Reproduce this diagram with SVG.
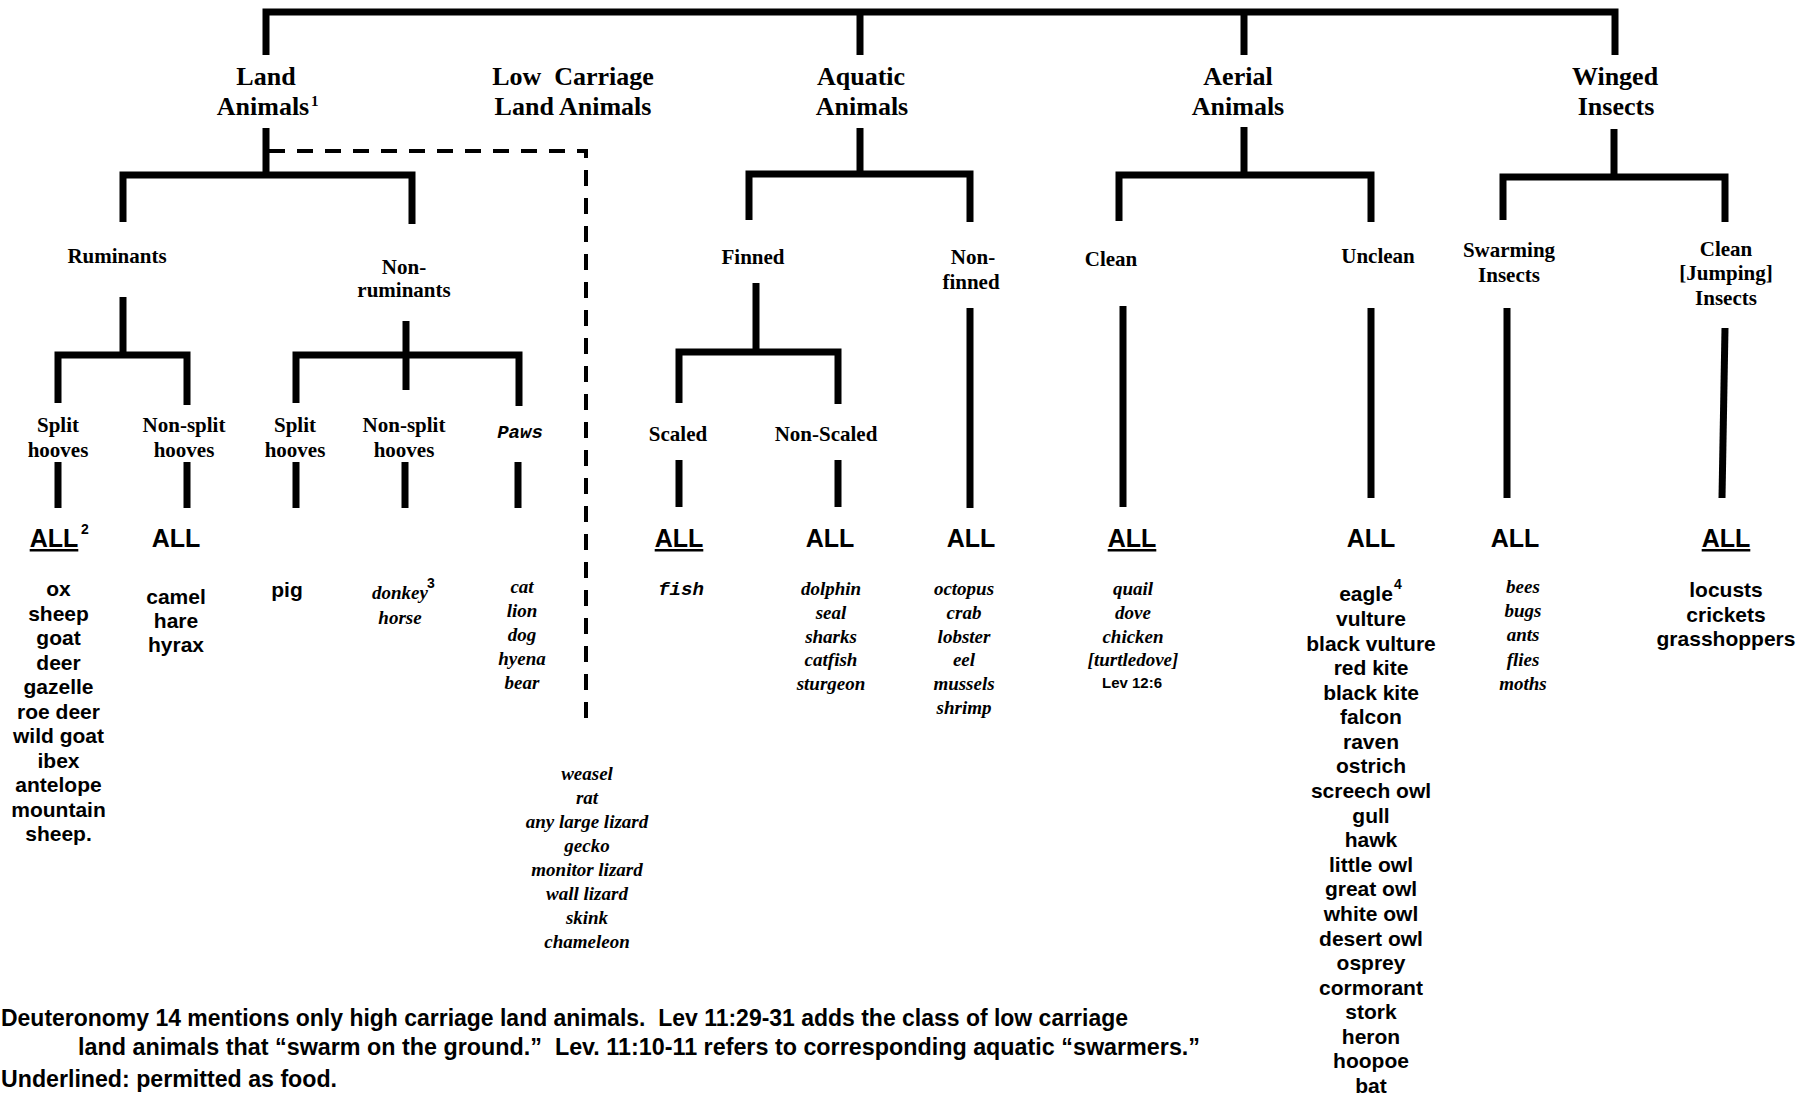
<svg xmlns="http://www.w3.org/2000/svg" width="1815" height="1097" viewBox="0 0 1815 1097">
<style>
.h{font-family:"Liberation Serif","Times New Roman",serif;font-weight:bold;font-size:26px;text-anchor:middle;fill:#000}
.s{font-family:"Liberation Serif","Times New Roman",serif;font-weight:bold;font-size:21px;text-anchor:middle;fill:#000}
.all{font-family:"Liberation Sans",Arial,sans-serif;font-weight:bold;font-size:25px;text-anchor:middle;fill:#000}
.u{text-decoration:underline}
.li{font-family:"Liberation Sans",Arial,sans-serif;font-weight:bold;font-size:21px;text-anchor:middle;fill:#000}
.sc{font-family:"Liberation Serif","Times New Roman",serif;font-style:italic;font-weight:bold;font-size:19px;text-anchor:middle;fill:#000}
.mono{font-family:"Liberation Mono","Courier New",monospace;font-style:italic;font-weight:bold;font-size:19px;text-anchor:middle;fill:#000}
.sup{font-family:"Liberation Sans",Arial,sans-serif;font-weight:bold;font-size:14px;fill:#000}
.supr{font-family:"Liberation Serif","Times New Roman",serif;font-weight:bold;font-size:15px;fill:#000}
.small{font-family:"Liberation Sans",Arial,sans-serif;font-weight:bold;font-size:15px;text-anchor:middle;fill:#000}
.note{font-family:"Liberation Sans Narrow","Liberation Sans",Arial,sans-serif;font-weight:bold;font-size:23px;fill:#000}
.ln{fill:none;stroke:#000;stroke-width:7;stroke-linejoin:miter;stroke-linecap:butt}
.dash{fill:none;stroke:#000;stroke-width:4;stroke-dasharray:16 12}
</style>
<rect width="1815" height="1097" fill="#fff"/>
<g id="connectors">
<path class="ln" d="M266,55 V12 H1615 V55"/>
<path class="ln" d="M860,12 V55"/>
<path class="ln" d="M1244,12 V55"/>
<path class="ln" d="M266,128 V175"/>
<path class="ln" d="M123,222 V175 H412 V224"/>
<path class="dash" d="M269,151 H586 V727"/>
<path class="ln" d="M123,297 V355"/>
<path class="ln" d="M58,403 V355 H187 V405"/>
<path class="ln" d="M406,321 V390"/>
<path class="ln" d="M296,403 V355 H519 V406"/>
<path class="ln" d="M58,462 V508 M187,462 V508 M296,462 V508 M405,462 V508 M518,462 V508"/>
<path class="ln" d="M860,128 V174"/>
<path class="ln" d="M749,220 V174 H970 V222"/>
<path class="ln" d="M756,283 V352"/>
<path class="ln" d="M679,403 V352 H838 V404"/>
<path class="ln" d="M679,460 V507 M838,460 V507"/>
<path class="ln" d="M970,308 V508"/>
<path class="ln" d="M1244,127 V175"/>
<path class="ln" d="M1119,221 V175 H1371 V222"/>
<path class="ln" d="M1123,306 V507"/>
<path class="ln" d="M1371,308 V498"/>
<path class="ln" d="M1614,129 V177"/>
<path class="ln" d="M1503,220 V177 H1725 V222"/>
<path class="ln" d="M1507,308 V498"/>
<path class="ln" d="M1725,328 L1722,498"/>
</g>
<g id="land-animals">
<text class="h" x="266" y="85">Land</text>
<text class="h" x="263" y="115">Animals</text>
<text class="supr" x="311" y="106">1</text>
</g>
<g id="low-carriage">
<text class="h" x="573" y="85" xml:space="preserve">Low  Carriage</text>
<text class="h" x="573" y="115">Land Animals</text>
</g>
<g id="aquatic">
<text class="h" x="861" y="85">Aquatic</text>
<text class="h" x="862" y="115">Animals</text>
</g>
<g id="aerial">
<text class="h" x="1238" y="85">Aerial</text>
<text class="h" x="1238" y="115">Animals</text>
</g>
<g id="winged">
<text class="h" x="1615" y="85">Winged</text>
<text class="h" x="1616" y="115">Insects</text>
</g>
<g id="ruminants"><text class="s" x="117" y="263">Ruminants</text></g>
<g id="non-ruminants">
<text class="s" x="404" y="274">Non-</text>
<text class="s" x="404" y="297">ruminants</text>
</g>
<g id="rum-split">
<text class="s" x="58" y="432">Split</text>
<text class="s" x="58" y="457">hooves</text>
</g>
<g id="rum-nonsplit">
<text class="s" x="184" y="432">Non-split</text>
<text class="s" x="184" y="457">hooves</text>
</g>
<g id="nr-split">
<text class="s" x="295" y="432">Split</text>
<text class="s" x="295" y="457">hooves</text>
</g>
<g id="nr-nonsplit">
<text class="s" x="404" y="432">Non-split</text>
<text class="s" x="404" y="457">hooves</text>
</g>
<g id="paws"><text class="mono" x="520" y="438">Paws</text></g>
<g id="finned"><text class="s" x="753" y="264">Finned</text></g>
<g id="non-finned">
<text class="s" x="973" y="264">Non-</text>
<text class="s" x="971" y="289">finned</text>
</g>
<g id="scaled"><text class="s" x="678" y="441">Scaled</text></g>
<g id="non-scaled"><text class="s" x="826" y="441">Non-Scaled</text></g>
<g id="clean-birds"><text class="s" x="1111" y="266">Clean</text></g>
<g id="unclean-birds"><text class="s" x="1378" y="263">Unclean</text></g>
<g id="swarming">
<text class="s" x="1509" y="257">Swarming</text>
<text class="s" x="1509" y="282">Insects</text>
</g>
<g id="jumping">
<text class="s" x="1726" y="256">Clean</text>
<text class="s" x="1726" y="280">[Jumping]</text>
<text class="s" x="1726" y="305">Insects</text>
</g>
<g id="leaf-rum-split">
<text class="all u" x="54" y="547">ALL</text>
<text class="sup" x="81" y="534">2</text>
<text class="li" x="58.5" y="596"><tspan x="58.5">ox</tspan><tspan x="58.5" dy="24.5">sheep</tspan><tspan x="58.5" dy="24.5">goat</tspan><tspan x="58.5" dy="24.5">deer</tspan><tspan x="58.5" dy="24.5">gazelle</tspan><tspan x="58.5" dy="24.5">roe deer</tspan><tspan x="58.5" dy="24.5">wild goat</tspan><tspan x="58.5" dy="24.5">ibex</tspan><tspan x="58.5" dy="24.5">antelope</tspan><tspan x="58.5" dy="24.5">mountain</tspan><tspan x="58.5" dy="24.5">sheep.</tspan></text>
</g>
<g id="leaf-rum-nonsplit">
<text class="all" x="176" y="547">ALL</text>
<text class="li" x="176" y="604"><tspan x="176">camel</tspan><tspan x="176" dy="24">hare</tspan><tspan x="176" dy="24">hyrax</tspan></text>
</g>
<g id="leaf-nr-split"><text class="li" x="287" y="597">pig</text></g>
<g id="leaf-nr-nonsplit">
<text class="sc" x="400" y="599">donkey</text>
<text class="sup" x="427" y="588">3</text>
<text class="sc" x="400" y="624">horse</text>
</g>
<g id="leaf-paws">
<text class="sc" x="522" y="593"><tspan x="522">cat</tspan><tspan x="522" dy="24">lion</tspan><tspan x="522" dy="24">dog</tspan><tspan x="522" dy="24">hyena</tspan><tspan x="522" dy="24">bear</tspan></text>
</g>
<g id="leaf-low-carriage">
<text class="sc" x="587" y="780"><tspan x="587">weasel</tspan><tspan x="587" dy="24">rat</tspan><tspan x="587" dy="24">any large lizard</tspan><tspan x="587" dy="24">gecko</tspan><tspan x="587" dy="24">monitor lizard</tspan><tspan x="587" dy="24">wall lizard</tspan><tspan x="587" dy="24">skink</tspan><tspan x="587" dy="24">chameleon</tspan></text>
</g>
<g id="leaf-scaled">
<text class="all u" x="679" y="547">ALL</text>
<text class="mono" x="681" y="595">fish</text>
</g>
<g id="leaf-non-scaled">
<text class="all" x="830" y="547">ALL</text>
<text class="sc" x="831" y="595"><tspan x="831">dolphin</tspan><tspan x="831" dy="23.8">seal</tspan><tspan x="831" dy="23.8">sharks</tspan><tspan x="831" dy="23.8">catfish</tspan><tspan x="831" dy="23.8">sturgeon</tspan></text>
</g>
<g id="leaf-non-finned">
<text class="all" x="971" y="547">ALL</text>
<text class="sc" x="964" y="595"><tspan x="964">octopus</tspan><tspan x="964" dy="23.8">crab</tspan><tspan x="964" dy="23.8">lobster</tspan><tspan x="964" dy="23.8">eel</tspan><tspan x="964" dy="23.8">mussels</tspan><tspan x="964" dy="23.8">shrimp</tspan></text>
</g>
<g id="leaf-clean-birds">
<text class="all u" x="1132" y="547">ALL</text>
<text class="sc" x="1133" y="595"><tspan x="1133">quail</tspan><tspan x="1133" dy="23.8">dove</tspan><tspan x="1133" dy="23.8">chicken</tspan><tspan x="1133" dy="23.8">[turtledove]</tspan></text>
<text class="small" x="1132" y="688">Lev 12:6</text>
</g>
<g id="leaf-unclean-birds">
<text class="all" x="1371" y="547">ALL</text>
<text class="li" x="1366" y="601">eagle</text>
<text class="sup" x="1394" y="589">4</text>
<text class="li" x="1371" y="626"><tspan x="1371">vulture</tspan><tspan x="1371" dy="24.58">black vulture</tspan><tspan x="1371" dy="24.58">red kite</tspan><tspan x="1371" dy="24.58">black kite</tspan><tspan x="1371" dy="24.58">falcon</tspan><tspan x="1371" dy="24.58">raven</tspan><tspan x="1371" dy="24.58">ostrich</tspan><tspan x="1371" dy="24.58">screech owl</tspan><tspan x="1371" dy="24.58">gull</tspan><tspan x="1371" dy="24.58">hawk</tspan><tspan x="1371" dy="24.58">little owl</tspan><tspan x="1371" dy="24.58">great owl</tspan><tspan x="1371" dy="24.58">white owl</tspan><tspan x="1371" dy="24.58">desert owl</tspan><tspan x="1371" dy="24.58">osprey</tspan><tspan x="1371" dy="24.58">cormorant</tspan><tspan x="1371" dy="24.58">stork</tspan><tspan x="1371" dy="24.58">heron</tspan><tspan x="1371" dy="24.58">hoopoe</tspan><tspan x="1371" dy="24.58">bat</tspan></text>
</g>
<g id="leaf-swarming">
<text class="all" x="1515" y="547">ALL</text>
<text class="sc" x="1523" y="593"><tspan x="1523">bees</tspan><tspan x="1523" dy="24.2">bugs</tspan><tspan x="1523" dy="24.2">ants</tspan><tspan x="1523" dy="24.2">flies</tspan><tspan x="1523" dy="24.2">moths</tspan></text>
</g>
<g id="leaf-jumping">
<text class="all u" x="1726" y="547">ALL</text>
<text class="li" x="1726" y="597"><tspan x="1726">locusts</tspan><tspan x="1726" dy="24.5">crickets</tspan><tspan x="1726" dy="24.5">grasshoppers</tspan></text>
</g>
<g id="notes">
<text class="note" x="1" y="1026" textLength="1127" lengthAdjust="spacingAndGlyphs" xml:space="preserve">Deuteronomy 14 mentions only high carriage land animals.  Lev 11:29-31 adds the class of low carriage</text>
<text class="note" x="78" y="1055" textLength="1122" lengthAdjust="spacingAndGlyphs" xml:space="preserve">land animals that “swarm on the ground.”  Lev. 11:10-11 refers to corresponding aquatic “swarmers.”</text>
<text class="note" x="1" y="1087" textLength="336" lengthAdjust="spacingAndGlyphs">Underlined: permitted as food.</text>
</g>
</svg>
